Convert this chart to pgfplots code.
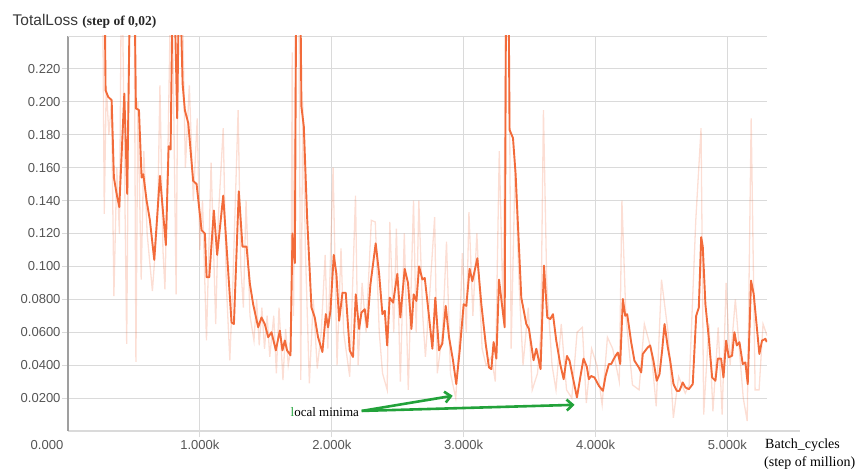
\documentclass[border=0pt]{standalone}
\usepackage{pgfplots}
\pgfplotsset{compat=1.18}
\usepackage{fontspec}
\setmainfont{Liberation Sans}
\newfontfamily\serif{Liberation Serif}
\usetikzlibrary{arrows.meta}
\definecolor{losscol}{HTML}{F26B3A}
\definecolor{gridc}{HTML}{DADADA}
\definecolor{tickc}{HTML}{555555}
\definecolor{arrowg}{HTML}{22A23A}

\pgfplotstableread{
x y
0.268 0.35
0.285 0.207
0.305 0.203
0.331 0.201
0.348 0.154
0.369 0.144
0.389 0.136
0.427 0.205
0.449 0.144
0.475 0.30
0.500 0.30
0.515 0.196
0.538 0.195
0.558 0.154
0.571 0.156
0.596 0.140
0.621 0.128
0.654 0.104
0.697 0.155
0.742 0.113
0.763 0.173
0.778 0.171
0.798 0.30
0.828 0.190
0.843 0.28
0.854 0.26
0.869 0.211
0.886 0.195
0.912 0.187
0.949 0.152
0.975 0.150
1.013 0.122
1.038 0.120
1.051 0.0934
1.071 0.0934
1.106 0.134
1.131 0.107
1.177 0.143
1.240 0.066
1.258 0.065
1.295 0.1456
1.323 0.112
1.354 0.112
1.379 0.0894
1.404 0.077
1.442 0.063
1.467 0.069
1.492 0.065
1.518 0.057
1.543 0.060
1.576 0.049
1.606 0.061
1.626 0.049
1.644 0.055
1.661 0.049
1.687 0.046
1.702 0.120
1.720 0.102
1.732 0.30
1.758 0.30
1.770 0.197
1.788 0.185
1.813 0.130
1.846 0.075
1.871 0.069
1.896 0.057
1.929 0.048
1.955 0.071
1.972 0.063
1.990 0.073
2.015 0.107
2.035 0.0955
2.056 0.067
2.081 0.084
2.106 0.084
2.136 0.049
2.161 0.045
2.182 0.083
2.207 0.062
2.225 0.072
2.250 0.074
2.268 0.063
2.293 0.089
2.333 0.114
2.359 0.0955
2.384 0.071
2.402 0.073
2.420 0.052
2.439 0.081
2.465 0.078
2.497 0.0955
2.520 0.069
2.553 0.0985
2.578 0.090
2.604 0.062
2.621 0.083
2.642 0.079
2.662 0.100
2.687 0.092
2.705 0.093
2.730 0.075
2.763 0.050
2.785 0.081
2.813 0.049
2.838 0.053
2.864 0.076
2.889 0.057
2.919 0.043
2.944 0.0285
2.970 0.049
3.000 0.077
3.020 0.076
3.045 0.0985
3.066 0.091
3.104 0.105
3.134 0.077
3.167 0.053
3.192 0.0386
3.210 0.0376
3.227 0.054
3.248 0.044
3.268 0.092
3.311 0.063
3.323 0.30
3.338 0.30
3.348 0.183
3.374 0.178
3.394 0.156
3.437 0.081
3.475 0.065
3.495 0.062
3.530 0.043
3.551 0.050
3.583 0.0376
3.609 0.1005
3.634 0.069
3.657 0.068
3.677 0.071
3.702 0.055
3.732 0.0407
3.758 0.0315
3.783 0.0456
3.803 0.0427
3.828 0.0325
3.859 0.0204
3.884 0.0325
3.909 0.044
3.934 0.039
3.949 0.0315
3.967 0.0334
3.992 0.0325
4.025 0.0275
4.056 0.0244
4.076 0.0334
4.101 0.0407
4.119 0.0407
4.131 0.0427
4.152 0.0457
4.169 0.0477
4.187 0.0407
4.207 0.0802
4.225 0.070
4.240 0.071
4.270 0.054
4.295 0.0427
4.328 0.0386
4.346 0.0356
4.358 0.0468
4.396 0.0508
4.414 0.052
4.439 0.0427
4.464 0.0305
4.485 0.0345
4.505 0.049
4.523 0.065
4.548 0.0508
4.566 0.0427
4.591 0.0285
4.616 0.0244
4.636 0.0244
4.661 0.0295
4.682 0.0264
4.707 0.0254
4.737 0.0285
4.763 0.070
4.783 0.075
4.801 0.1178
4.813 0.112
4.833 0.077
4.858 0.057
4.884 0.0325
4.909 0.0305
4.927 0.044
4.952 0.044
4.970 0.0325
4.990 0.0549
5.010 0.0448
5.035 0.0457
5.053 0.060
5.071 0.052
5.091 0.054
5.116 0.0407
5.136 0.0417
5.154 0.0285
5.179 0.0914
5.199 0.0833
5.230 0.057
5.242 0.0468
5.262 0.0549
5.288 0.056
5.298 0.054
}\smoothed

\pgfplotstableread{
x y
0.260 0.30
0.275 0.132
0.290 0.21
0.310 0.18
0.330 0.20
0.348 0.082
0.370 0.16
0.390 0.12
0.407 0.30
0.445 0.053
0.470 0.30
0.500 0.30
0.515 0.042
0.530 0.20
0.555 0.092
0.575 0.17
0.600 0.12
0.640 0.085
0.680 0.13
0.697 0.21
0.720 0.11
0.735 0.086
0.760 0.18
0.785 0.30
0.820 0.083
0.840 0.30
0.870 0.25
0.890 0.16
0.920 0.21
0.950 0.14
0.980 0.19
1.000 0.11
1.020 0.14
1.050 0.055
1.085 0.163
1.120 0.065
1.140 0.13
1.177 0.184
1.200 0.09
1.227 0.043
1.250 0.09
1.290 0.195
1.310 0.10
1.330 0.075
1.350 0.14
1.380 0.07
1.410 0.055
1.430 0.080
1.450 0.052
1.470 0.075
1.490 0.05
1.510 0.07
1.530 0.045
1.560 0.07
1.580 0.035
1.600 0.075
1.630 0.031
1.650 0.062
1.670 0.04
1.690 0.05
1.700 0.23
1.710 0.07
1.730 0.30
1.750 0.28
1.765 0.031
1.780 0.20
1.800 0.11
1.830 0.029
1.860 0.08
1.890 0.038
1.920 0.06
1.950 0.107
1.970 0.05
2.010 0.160
2.040 0.04
2.070 0.111
2.090 0.06
2.136 0.033
2.180 0.143
2.200 0.04
2.230 0.09
2.260 0.06
2.300 0.128
2.330 0.127
2.360 0.06
2.385 0.035
2.420 0.025
2.440 0.127
2.470 0.06
2.490 0.123
2.520 0.03
2.550 0.120
2.580 0.025
2.620 0.14
2.640 0.06
2.660 0.14
2.690 0.07
2.710 0.045
2.740 0.08
2.780 0.13
2.800 0.035
2.840 0.06
2.870 0.115
2.900 0.035
2.940 0.02
2.970 0.06
2.990 0.108
3.020 0.06
3.040 0.133
3.070 0.07
3.100 0.12
3.140 0.05
3.170 0.040
3.210 0.045
3.240 0.03
3.270 0.17
3.300 0.07
3.323 0.30
3.340 0.30
3.360 0.05
3.390 0.16
3.420 0.09
3.450 0.04
3.490 0.075
3.520 0.025
3.560 0.035
3.585 0.06
3.605 0.195
3.630 0.09
3.670 0.04
3.700 0.025
3.740 0.065
3.780 0.025
3.820 0.02
3.860 0.06
3.900 0.063
3.930 0.017
3.970 0.05
4.010 0.04
4.050 0.016
4.090 0.057
4.130 0.05
4.180 0.03
4.200 0.14
4.230 0.07
4.280 0.028
4.330 0.025
4.370 0.065
4.420 0.05
4.460 0.015
4.500 0.092
4.550 0.06
4.590 0.008
4.630 0.033
4.680 0.023
4.710 0.028
4.760 0.128
4.800 0.184
4.820 0.01
4.860 0.065
4.890 0.012
4.930 0.063
4.960 0.01
4.990 0.09
5.020 0.04
5.060 0.08
5.120 0.02
5.150 0.006
5.180 0.19
5.210 0.025
5.240 0.025
5.270 0.065
5.300 0.058
}\raw

\begin{document}
\begin{tikzpicture}
\useasboundingbox (0,0) rectangle (860pt,469pt);
\begin{axis}[
  at={(68pt,38pt)}, anchor=south west,
  scale only axis, width=699pt, height=395pt,
  xmin=0, xmax=5.30, ymin=0, ymax=0.24,
  axis lines=left, axis line style={-},
  x axis line style={draw=gridc, line width=1.2pt},
  y axis line style={draw=gray!75, line width=1.5pt},
  xtick={1,2,3,4,5},
  xticklabels={1.000k,2.000k,3.000k,4.000k,5.000k},
  ytick={0.02,0.04,0.06,0.08,0.10,0.12,0.14,0.16,0.18,0.20,0.22},
  yticklabels={0.0200,0.0400,0.0600,0.0800,0.100,0.120,0.140,0.160,0.180,0.200,0.220},
  grid=major, grid style={draw=gridc, line width=0.9pt},
  tick align=outside, major tick length=6pt,
  tick style={draw=gridc, line width=0.9pt},
  ticklabel style={font=\fontsize{13}{15}\selectfont, text=tickc},
  yticklabel style={xshift=2pt},
]
\draw[gridc, line width=0.9pt] (axis cs:0,0.24) -- (axis cs:5.30,0.24);
\addplot[draw=losscol, opacity=0.22, line width=1.3pt, sharp plot] table[x=x,y=y] {\raw};
\addplot[draw=losscol, line width=1.9pt, line join=round, sharp plot] table[x=x,y=y] {\smoothed};
\draw[arrowg, line width=2.6pt, -{Straight Barb[length=6pt,width=11pt]}] (axis cs:2.227,0.0122) -- (axis cs:2.917,0.0214);
\draw[arrowg, line width=2.6pt, -{Straight Barb[length=6pt,width=11pt]}] (axis cs:2.227,0.0122) -- (axis cs:3.841,0.0159);
\node[anchor=east, inner sep=1pt, font=\serif\fontsize{13}{15}\selectfont] at (axis cs:2.215,0.0118) {\textcolor{arrowg}{l}ocal minima};
\end{axis}
\draw[gridc, line width=1.2pt] (767pt,38pt) -- (800pt,38pt);
\node[anchor=base west, inner sep=0pt] at (12.5pt,443pt) {\fontsize{15.5}{18}\selectfont\color{darkgray!90!black}TotalLoss \serif\bfseries\fontsize{13.5}{16}\selectfont\color{black!85}(step of 0,02)};
\node[inner sep=0pt, font=\fontsize{13}{15}\selectfont, text=tickc] at (47pt,24pt) {0.000};
\node[anchor=base west, inner sep=0pt, font=\serif\fontsize{14}{16}\selectfont] at (765pt,20pt) {Batch\_cycles};
\node[anchor=base west, inner sep=0pt, font=\serif\fontsize{14}{16}\selectfont] at (764pt,3pt) {(step of million)};
\end{tikzpicture}
\end{document}
